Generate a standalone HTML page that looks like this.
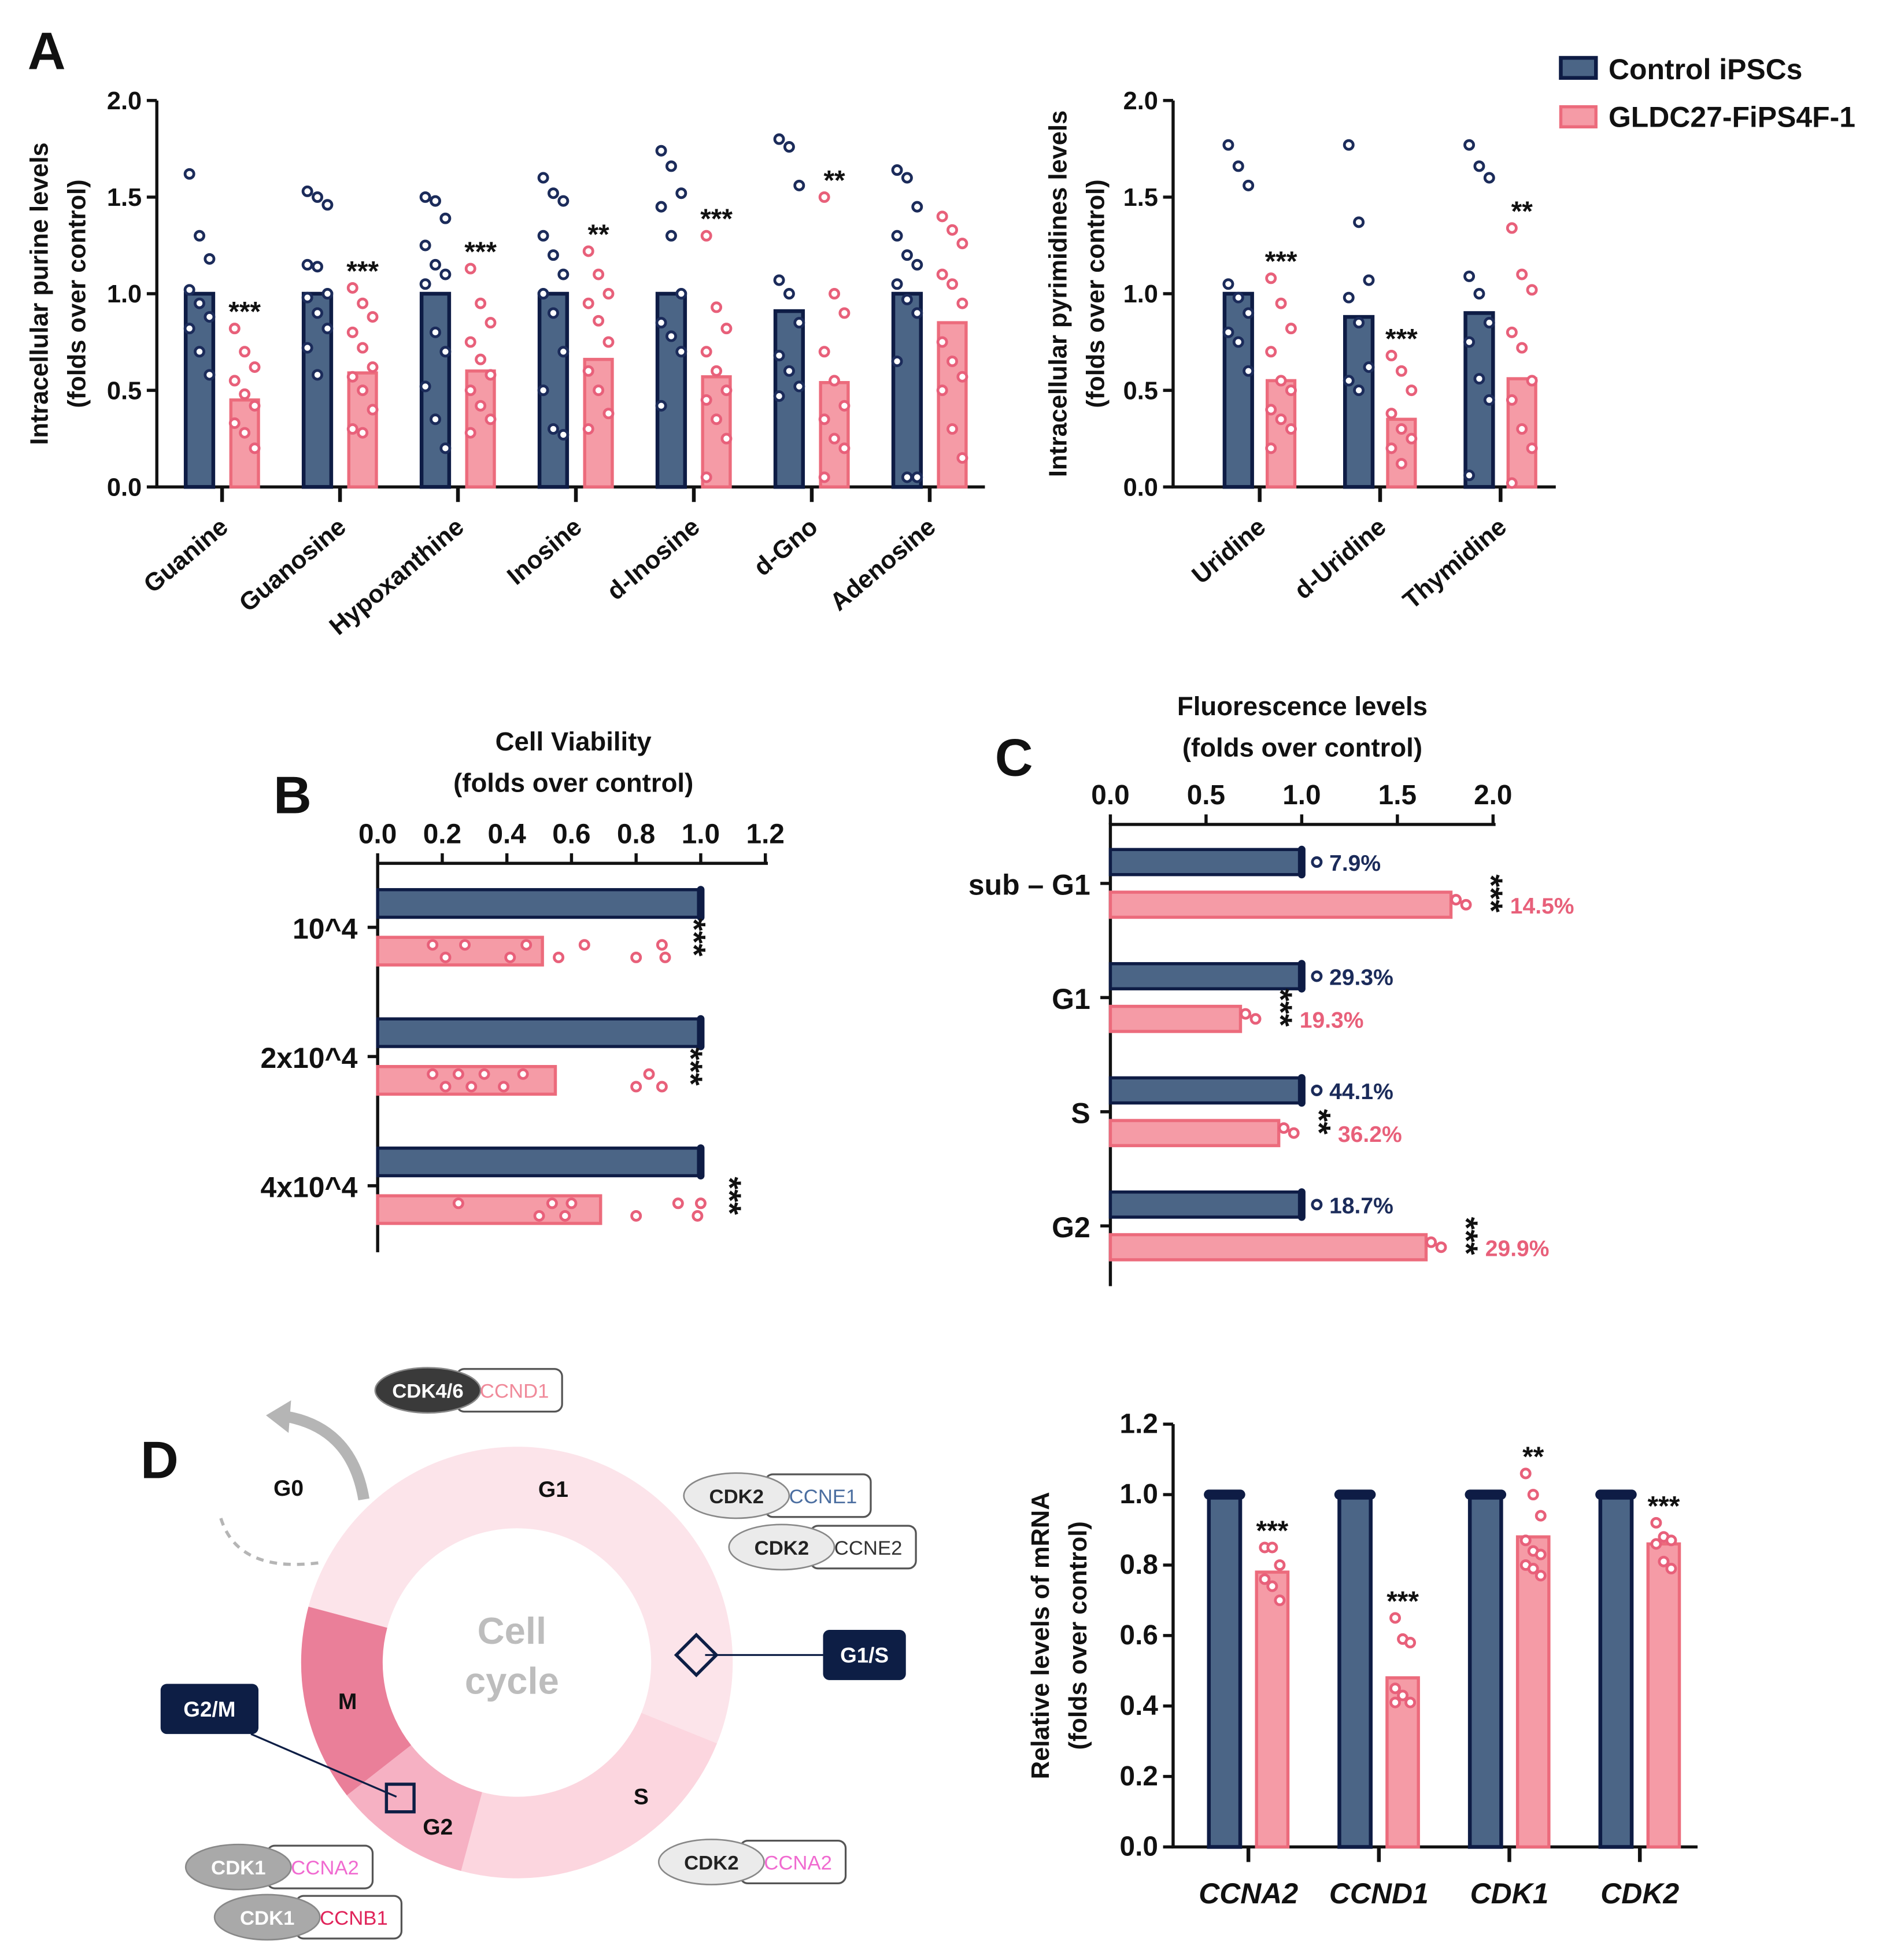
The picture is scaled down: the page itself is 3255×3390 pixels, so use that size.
<!DOCTYPE html>
<html><head><meta charset="utf-8"><style>
html,body{margin:0;padding:0;background:#fff}
svg{display:block;font-family:"Liberation Sans","DejaVu Sans",sans-serif}
</style></head><body>
<svg id="fig" width="3255" height="3390" viewBox="0 0 1500 1562" xmlns="http://www.w3.org/2000/svg"></svg>
<script>
// ---- data ----
const purineCats=["Guanine","Guanosine","Hypoxanthine","Inosine","d-Inosine","d-Gno","Adenosine"];
const purineCtrl=[1.0,1.0,1.0,1.0,1.0,0.91,1.0];
const purineGldc=[0.45,0.59,0.60,0.66,0.57,0.54,0.85];
const purineStars=["***","***","***","**","***","**",""];
const purineCtrlDots=[[1.62,1.3,1.18,1.02,0.95,0.88,0.82,0.7,0.58],[1.53,1.5,1.46,1.15,1.14,1.0,0.98,0.9,0.82,0.72,0.58],[1.5,1.48,1.39,1.25,1.15,1.1,1.05,0.8,0.7,0.52,0.35,0.2],[1.6,1.52,1.48,1.3,1.2,1.1,1.0,0.9,0.7,0.5,0.3,0.27],[1.74,1.66,1.52,1.45,1.3,1.0,0.85,0.78,0.7,0.42],[1.8,1.76,1.56,1.07,1.0,0.85,0.68,0.6,0.52,0.47],[1.64,1.6,1.45,1.3,1.2,1.15,1.05,0.97,0.9,0.65,0.05,0.05]];
const purineGldcDots=[[0.82,0.7,0.62,0.55,0.48,0.42,0.33,0.28,0.2],[1.03,0.95,0.88,0.8,0.72,0.62,0.57,0.5,0.4,0.3,0.28],[1.13,0.95,0.85,0.75,0.66,0.58,0.5,0.42,0.35,0.28],[1.22,1.1,1.0,0.95,0.86,0.75,0.6,0.5,0.38,0.3],[1.3,0.93,0.82,0.7,0.6,0.5,0.45,0.35,0.25,0.05],[1.5,1.0,0.9,0.7,0.55,0.42,0.35,0.25,0.2,0.05],[1.4,1.33,1.26,1.1,1.05,0.95,0.75,0.65,0.57,0.5,0.3,0.15]];
const pyrCats=["Uridine","d-Uridine","Thymidine"];
const pyrCtrl=[1.0,0.88,0.9];
const pyrGldc=[0.55,0.35,0.56];
const pyrStars=["***","***","**"];
const pyrCtrlDots=[[1.77,1.66,1.56,1.05,0.98,0.9,0.8,0.75,0.6],[1.77,1.37,1.07,0.98,0.85,0.62,0.55,0.5],[1.77,1.66,1.6,1.09,1.0,0.85,0.75,0.56,0.45,0.06]];
const pyrGldcDots=[[1.08,0.95,0.82,0.7,0.55,0.5,0.4,0.35,0.3,0.2],[0.68,0.6,0.5,0.38,0.3,0.25,0.2,0.12],[1.34,1.1,1.02,0.8,0.72,0.55,0.45,0.3,0.2,0.02]];
const viabCats=["10^4","2x10^4","4x10^4"];
const viabCtrl=[1.0,1.0,1.0];
const viabGldc=[0.51,0.55,0.69];
const viabGldcDots=[[0.17,0.21,0.27,0.41,0.46,0.56,0.64,0.8,0.88,0.89],[0.17,0.21,0.25,0.29,0.33,0.39,0.45,0.8,0.84,0.88],[0.25,0.5,0.54,0.58,0.6,0.8,0.93,0.99,1.0]];
const flCats=["sub – G1","G1","S","G2"];
const flCtrl=[1.0,1.0,1.0,1.0];
const flGldc=[1.78,0.68,0.88,1.65];
const flCtrlPct=["7.9%","29.3%","44.1%","18.7%"];
const flGldcPct=["14.5%","19.3%","36.2%","29.9%"];
const flStars=["***","***","**","***"];
const mrnaCats=["CCNA2","CCND1","CDK1","CDK2"];
const mrnaCtrl=[1.0,1.0,1.0,1.0];
const mrnaGldc=[0.78,0.48,0.88,0.86];
const mrnaStars=["***","***","**","***"];
const mrnaGldcDots=[[0.85,0.85,0.8,0.76,0.74,0.7],[0.65,0.59,0.58,0.45,0.43,0.41,0.41],[1.06,1.0,0.94,0.87,0.84,0.83,0.8,0.79,0.77],[0.92,0.88,0.87,0.86,0.81,0.79]];

const NAVY="#4b6586",NAVYB="#0e1c45",PINK="#f59ba6",PINKB="#ec6b7c",DN="#1b2b5a",DP="#e8607a";
const svg=document.getElementById('fig');const NS="http://www.w3.org/2000/svg";
function mk(t,a,p){const e=document.createElementNS(NS,t);for(const k in a)e.setAttribute(k,a[k]);(p||svg).appendChild(e);return e;}
function tx(x,y,s,sz,extra,p){const e=mk('text',Object.assign({x:x,y:y,'font-size':sz,'font-weight':'bold',fill:'#111'},extra||{}),p);e.textContent=s;return e;}

function vchart(opt){
  const g=mk('g',{});
  
  
  const ys=v=>opt.y0-(v-0)*(opt.y0-opt.yTop)/opt.yMax;
  const ax=mk('path',{d:`M${opt.x0} ${opt.yTop} V${opt.y0} H${opt.xEnd}`,stroke:'#111','stroke-width':2.5,fill:'none'},g);
  
  
  opt.ticks.forEach(t=>{
    const y=ys(t);
    const l=mk('line',{x1:opt.x0-8,x2:opt.x0,y1:y,y2:y,stroke:'#111','stroke-width':2.5},g);
    
    
    const lt=tx(opt.x0-12,y+7,t.toFixed(1),opt.tickSize||20,{'text-anchor':'end'},g);
    
    
  });
  opt.cats.forEach((c,i)=>{
    const cx=opt.first+i*opt.step, xa=cx-opt.off, xb=cx+opt.off, bw=opt.bw;
    const b1=mk('rect',{x:xa-bw/2,y:ys(opt.ctrl[i]),width:bw,height:opt.y0-ys(opt.ctrl[i]),fill:NAVY,stroke:NAVYB,'stroke-width':3},g);
    
    
    if(opt.capCtrl){const cp=mk('line',{x1:xa-bw/2,x2:xa+bw/2,y1:ys(opt.ctrl[i]),y2:ys(opt.ctrl[i]),stroke:NAVYB,'stroke-width':8,'stroke-linecap':'round'},g);}
    const b2=mk('rect',{x:xb-bw/2,y:ys(opt.gldc[i]),width:bw,height:opt.y0-ys(opt.gldc[i]),fill:PINK,stroke:PINKB,'stroke-width':2.5},g);
    
    
    const sp=opt.spread||8;
    const dotset=(arr,x,col,nm)=>{ if(!arr)return; arr.forEach((v,j)=>{
      const d=mk('circle',{cx:x+((j%3)-1)*sp,cy:ys(v),r:3.5,fill:'#fff',stroke:col,'stroke-width':2.2},g);
      
      });};
    dotset(opt.ctrlDots&&opt.ctrlDots[i],xa,DN,'dot-control');
    dotset(opt.gldcDots&&opt.gldcDots[i],xb,DP,'dot-gldc');
    if(opt.stars[i]){
      const top=Math.max(opt.gldc[i],...((opt.gldcDots&&opt.gldcDots[i])||[0]));
      const st=tx(xb,ys(top)-6,opt.stars[i],22,{'text-anchor':'middle'},g);
      
      
    }
    const tk=mk('line',{x1:cx,x2:cx,y1:opt.y0,y2:opt.y0+12,stroke:'#111','stroke-width':3},g);
    
    
    let lab;
    if(opt.rot) lab=tx(cx+6,opt.y0+34,c,20,{'text-anchor':'end',transform:`rotate(-40 ${cx+6} ${opt.y0+34})`},g);
    else lab=tx(cx,opt.y0+45,c,23,{'text-anchor':'middle','font-style':'italic'},g);
    
    
  });
  const yt=mk('text',{transform:`translate(${opt.titleX},${(opt.y0+opt.yTop)/2}) rotate(-90)`,'text-anchor':'middle','font-size':20,'font-weight':'bold',fill:'#111'},g);
  
  
  opt.title.forEach((t,k)=>{const s=mk('tspan',{x:0,dy:k?30:0},yt);s.textContent=t;});
  return g;
}

tx(22,55,'A',42);
vchart({name:'purine-chart',x0:125,xEnd:785,y0:388,yTop:80,yMax:2,ticks:[0,0.5,1,1.5,2],cats:purineCats,ctrl:purineCtrl,gldc:purineGldc,ctrlDots:purineCtrlDots,gldcDots:purineGldcDots,stars:purineStars,first:177,step:94,off:18,bw:22,rot:true,titleX:38,title:['Intracellular purine levels','(folds over control)']});
vchart({name:'pyrimidine-chart',x0:935,xEnd:1240,y0:388,yTop:80,yMax:2,ticks:[0,0.5,1,1.5,2],cats:pyrCats,ctrl:pyrCtrl,gldc:pyrGldc,ctrlDots:pyrCtrlDots,gldcDots:pyrGldcDots,stars:pyrStars,first:1004,step:96,off:17,bw:22,rot:true,titleX:850,title:['Intracellular pyrimidines levels','(folds over control)']});
const lg=mk('g',{});
const l1=mk('rect',{x:1244,y:46,width:28,height:16,fill:NAVY,stroke:NAVYB,'stroke-width':3},lg);
const l2=mk('rect',{x:1244,y:85,width:28,height:16,fill:PINK,stroke:PINKB,'stroke-width':2.5},lg);
tx(1282,63,'Control iPSCs',23,{},lg);
tx(1282,101,'GLDC27-FiPS4F-1',23,{},lg);

function hchart(opt){
  const g=mk('g',{});
  
  
  const xs=v=>opt.x0+v*(opt.xMaxPx-opt.x0)/opt.xMax;
  const ax=mk('path',{d:`M${opt.x0} ${opt.yEnd} V${opt.y0} H${opt.axEnd}`,stroke:'#111','stroke-width':2.5,fill:'none'},g);
  
  opt.ticks.forEach(t=>{const x=xs(t);
    const l=mk('line',{x1:x,x2:x,y1:opt.y0-8,y2:opt.y0,stroke:'#111','stroke-width':2.5},g);
    const lt=tx(x,opt.y0-16,t.toFixed(1),22,{'text-anchor':'middle'},g);});
  opt.titles.forEach((t,k)=>{const e=tx(opt.titleX,opt.titleY+k*33,t,21,{'text-anchor':'middle','font-weight':'bold'},g);});
  opt.cats.forEach((c,i)=>{
    const cy=opt.first+i*opt.step, ya=cy-opt.off, yb=cy+opt.off, bh=opt.bh;
    const b1=mk('rect',{x:opt.x0,y:ya-bh/2,width:xs(opt.ctrl[i])-opt.x0,height:bh,fill:NAVY,stroke:NAVYB,'stroke-width':2.5},g);
    const cp=mk('line',{x1:xs(opt.ctrl[i]),x2:xs(opt.ctrl[i]),y1:ya-bh/2,y2:ya+bh/2,stroke:NAVYB,'stroke-width':6,'stroke-linecap':'round'},g);
    const b2=mk('rect',{x:opt.x0,y:yb-bh/2,width:xs(opt.gldc[i])-opt.x0,height:bh,fill:PINK,stroke:PINKB,'stroke-width':2.5},g);
    let maxv=opt.gldc[i];
    if(opt.dots){opt.dots[i].forEach((v,j)=>{maxv=Math.max(maxv,v);const d=mk('circle',{cx:xs(v),cy:yb+((j%2)?5:-5),r:3.5,fill:'#fff',stroke:DP,'stroke-width':2.2},g);});}
    else{ [0,1].forEach(j=>{const d=mk('circle',{cx:xs(opt.gldc[i])+4+j*8,cy:yb+(j?0:-4),r:3.5,fill:'#fff',stroke:DP,'stroke-width':2.2},g);});
      maxv=opt.gldc[i]+0.06;
      const dc=mk('circle',{cx:xs(opt.ctrl[i])+12,cy:ya,r:3.5,fill:'#fff',stroke:DN,'stroke-width':2.2},g);}
    const sx=xs(maxv)+14;
    const st=tx(0,0,opt.stars[i],26,{'text-anchor':'middle',transform:`translate(${sx},${cy+8}) rotate(90)`},g);
    const lab=tx(opt.x0-16,cy+9,c,23,{'text-anchor':'end'},g);
    const tk=mk('line',{x1:opt.x0-8,x2:opt.x0,y1:cy,y2:cy,stroke:'#111','stroke-width':2.5},g);
    if(opt.pctA){
      const p1=tx(xs(opt.ctrl[i])+22,ya+7,opt.pctA[i],18,{fill:DN},g);
      const p2=tx(xs(maxv)+38,yb+7,opt.pctB[i],18,{fill:DP},g);
    }
  });
}
tx(218,648,'B',42);
hchart({name:'cell-viability-chart',x0:301,xMaxPx:610,xMax:1.2,axEnd:612,y0:688,yEnd:998,ticks:[0,0.2,0.4,0.6,0.8,1.0,1.2],titles:['Cell Viability','(folds over control)'],titleX:457,titleY:598,cats:viabCats,ctrl:viabCtrl,gldc:viabGldc,dots:viabGldcDots,stars:['***','***','***'],first:739,step:103,off:19,bh:22});
tx(793,618,'C',42);
hchart({name:'fluorescence-chart',x0:885,xMaxPx:1190,xMax:2,axEnd:1192,y0:657,yEnd:1025,ticks:[0,0.5,1,1.5,2],titles:['Fluorescence levels','(folds over control)'],titleX:1038,titleY:570,cats:flCats,ctrl:flCtrl,gldc:flGldc,stars:flStars,pctA:flCtrlPct,pctB:flGldcPct,first:704,step:91,off:17,bh:20});

vchart({name:'mrna-chart',x0:935,xEnd:1353,y0:1472,yTop:1135,yMax:1.2,ticks:[0,0.2,0.4,0.6,0.8,1.0,1.2],cats:mrnaCats,ctrl:mrnaCtrl,gldc:mrnaGldc,gldcDots:mrnaGldcDots,stars:mrnaStars,first:995,step:104,off:19,bw:25,rot:false,capCtrl:true,tickSize:22,spread:6,titleX:836,title:['Relative levels of mRNA','(folds over control)']});

tx(112,1178,'D',42);
const dg=mk('g',{});
const CX=412,CY=1325,R1=172,R0=107;
function sector(a0,a1,col,nm){const r=a=>(a-90)*Math.PI/180;
  const p=(R,a)=>`${CX+R*Math.cos(r(a))} ${CY+R*Math.sin(r(a))}`;const lg=(a1-a0)>180?1:0;
  const e=mk('path',{d:`M${p(R1,a0)} A${R1} ${R1} 0 ${lg} 1 ${p(R1,a1)} L${p(R0,a1)} A${R0} ${R0} 0 ${lg} 0 ${p(R0,a0)} Z`,fill:col},dg);
  }
sector(-75,112,'#fce4ea','phase-g1');sector(112,195,'#fcd6df','phase-s');sector(195,232,'#f6b1c3','phase-g2');sector(232,285,'#ea7f99','phase-m');
tx(CX-4,1310,'Cell',30,{'text-anchor':'middle',fill:'#bdbdbd'},dg);
tx(CX-4,1350,'cycle',30,{'text-anchor':'middle',fill:'#bdbdbd'},dg);
[['G0',230,1192],['G1',441,1193],['M',277,1362],['G2',349,1462],['S',511,1438]].forEach(a=>{const t=tx(a[1],a[2],a[0],18,{'text-anchor':'middle'},dg);});
const arr=mk('path',{d:'M290 1195 Q280 1135 222 1128',stroke:'#b5b5b5','stroke-width':9,fill:'none'},dg);
const ah=mk('path',{d:'M212 1128 L232 1116 L230 1142 Z',fill:'#b5b5b5'},dg);
const da=mk('path',{d:'M176 1210 Q190 1255 258 1245',stroke:'#b5b5b5','stroke-width':2.5,'stroke-dasharray':'6 5',fill:'none'},dg);
function pair(x,y,a,b,bc,ellFill,textFill,nm){
  const r=mk('rect',{x:x+60,y:y-17,width:84,height:34,rx:6,fill:'#fff',stroke:'#555','stroke-width':1.5},dg);
  const e=mk('ellipse',{cx:x+37,cy:y,rx:42,ry:18,fill:ellFill,stroke:'#888','stroke-width':1.2},dg);
  tx(x+37,y+6,a,16,{'text-anchor':'middle',fill:textFill,'font-weight':'bold'},dg);
  tx(x+106,y+6,b,16,{'text-anchor':'middle',fill:bc,'font-weight':'normal'},dg);
}
pair(304,1108,'CDK4/6','CCND1','#f08a9a',"#3a3a3a",'#fff','cdk46-ccnd1');
pair(550,1192,'CDK2','CCNE1','#4b6ea0',"#ebebeb",'#222','cdk2-ccne1');
pair(586,1233,'CDK2','CCNE2','#333',"#ebebeb",'#222','cdk2-ccne2');
pair(530,1484,'CDK2','CCNA2','#f06ad0',"#ebebeb",'#222','cdk2-ccna2');
pair(153,1488,'CDK1','CCNA2','#f06ad0',"#a9a9a9",'#fff','cdk1-ccna2');
pair(176,1528,'CDK1','CCNB1','#e0245a',"#a9a9a9",'#fff','cdk1-ccnb1');
const g1s=mk('rect',{x:656,y:1299,width:66,height:40,rx:5,fill:'#0d1e45'},dg);
tx(689,1325,'G1/S',17,{'text-anchor':'middle',fill:'#fff'},dg);
const g2m=mk('rect',{x:128,y:1342,width:78,height:40,rx:5,fill:'#0d1e45'},dg);
tx(167,1368,'G2/M',17,{'text-anchor':'middle',fill:'#fff'},dg);
const dm=mk('path',{d:'M555 1303 L571 1319 L555 1335 L539 1319 Z',fill:'none',stroke:'#0d1e45','stroke-width':2.5},dg);
const l1s=mk('line',{x1:656,y1:1319,x2:562,y2:1319,stroke:'#0d1e45','stroke-width':1.5},dg);
const sq=mk('rect',{x:308,y:1422,width:22,height:22,fill:'none',stroke:'#0d1e45','stroke-width':2.5},dg);
const l2m=mk('line',{x1:200,y1:1382,x2:316,y2:1432,stroke:'#0d1e45','stroke-width':1.5},dg);
</script>
</body></html>
